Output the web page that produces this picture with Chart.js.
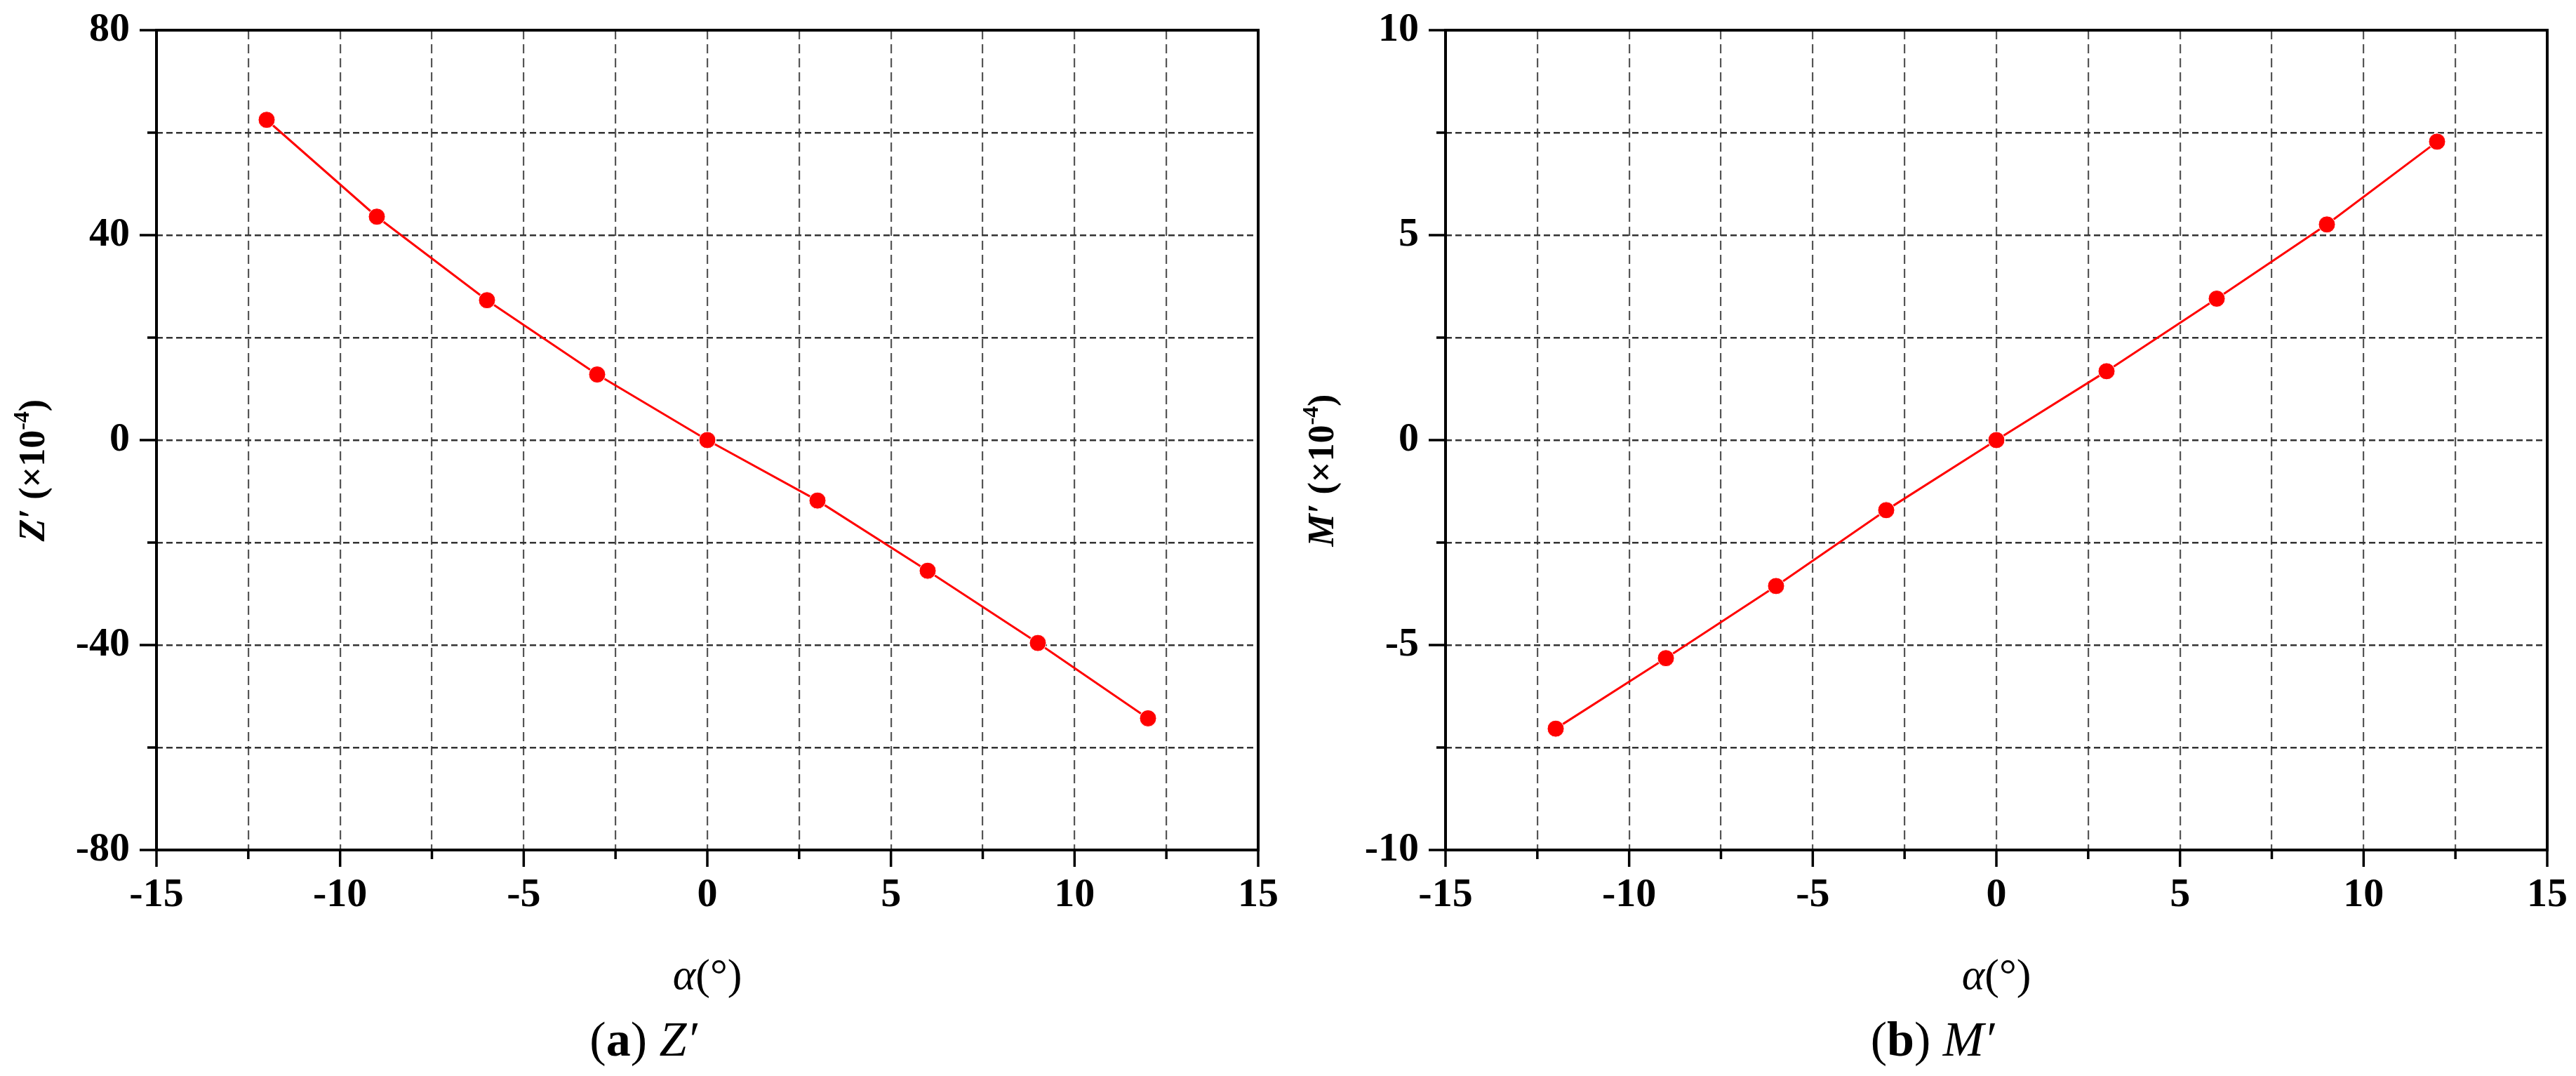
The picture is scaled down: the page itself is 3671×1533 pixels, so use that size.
<!DOCTYPE html>
<html>
<head>
<meta charset="utf-8">
<script src="https://cdn.jsdelivr.net/npm/chart.js@4.4.0/dist/chart.umd.min.js"></script>
<style>
  html, body { margin: 0; padding: 0; background: #fff; }
  .panel { position: absolute; top: 0; width: 1835px; height: 1533px; }
</style>
</head>
<body>
<div class="panel" style="left:0"><canvas id="chartZ" width="1835" height="1533"></canvas></div>
<div class="panel" style="left:1837px"><canvas id="chartM" width="1835" height="1533"></canvas></div>
<script>
// angle of attack (deg)
const alpha = [-12, -9, -6, -3, 0, 3, 6, 9, 12];
// Z' (x10^-4)
const zValues = [62.5, 43.6, 27.3, 12.8, 0, -11.8, -25.5, -39.6, -54.3];
// M' (x10^-4)
const mValues = [-7.04, -5.32, -3.56, -1.71, 0, 1.68, 3.45, 5.26, 7.28];

const SERIF = '"Liberation Serif", "Times New Roman", serif';

function drawRuns(ctx, runs, cx, cy) {
  let total = 0;
  runs.forEach(r => { ctx.font = r.font; total += ctx.measureText(r.text).width; });
  let x = cx - total / 2;
  ctx.textAlign = 'left';
  ctx.textBaseline = 'alphabetic';
  runs.forEach(r => {
    ctx.font = r.font;
    ctx.fillText(r.text, x, cy + (r.dy || 0));
    x += ctx.measureText(r.text).width;
  });
}

const isMajor = (v, step) => Math.abs(v / step - Math.round(v / step)) < 1e-6;

// ticks (major/minor), frame, titles and caption
const decor = {
  id: 'decor',
  afterDraw(chart, args, opts) {
    const { ctx, chartArea: a, scales: { x, y } } = chart;
    ctx.save();
    ctx.strokeStyle = '#000';
    ctx.lineWidth = 3.5;
    ctx.beginPath();
    x.ticks.forEach(t => {
      const px = x.getPixelForValue(t.value);
      const len = isMajor(t.value, opts.xMajor) ? 24 : 13;
      ctx.moveTo(px, a.bottom);
      ctx.lineTo(px, a.bottom + len);
    });
    y.ticks.forEach(t => {
      const py = y.getPixelForValue(t.value);
      const len = isMajor(t.value, opts.yMajor) ? 24 : 13;
      ctx.moveTo(a.left, py);
      ctx.lineTo(a.left - len, py);
    });
    ctx.stroke();

    ctx.lineWidth = 4;
    ctx.strokeRect(a.left, a.top, a.right - a.left, a.bottom - a.top);

    ctx.fillStyle = '#000';
    // y title
    ctx.save();
    ctx.translate(63, 670);
    ctx.rotate(-Math.PI / 2);
    drawRuns(ctx, opts.yTitle, 0, 0);
    ctx.restore();

    // x title
    drawRuns(ctx, [
      { text: 'α', font: 'italic 62px ' + SERIF },
      { text: '(°)', font: '62px ' + SERIF }
    ], (a.left + a.right) / 2, 1409);

    // caption
    drawRuns(ctx, opts.caption, 917, 1504);
    ctx.restore();
  }
};

function makeChart(id, values, yMin, yMax, yStep, yMajor, yTitle, caption) {
  const points = alpha.map((a, i) => ({ x: a, y: values[i] }));
  return new Chart(document.getElementById(id), {
    type: 'line',
    data: {
      datasets: [{
        data: points,
        borderColor: '#ff0000',
        borderWidth: 3,
        pointRadius: 12,
        pointBackgroundColor: '#ff0000',
        pointBorderColor: '#ffffff',
        pointBorderWidth: 1,
        tension: 0
      }]
    },
    options: {
      responsive: false,
      devicePixelRatio: 1,
      animation: false,
      events: [],
      layout: { padding: { left: 0, top: 43, right: 42, bottom: 0 } },
      plugins: {
        legend: { display: false },
        tooltip: { enabled: false },
        decor: { xMajor: 5, yMajor: yMajor, yTitle: yTitle, caption: caption }
      },
      scales: {
        x: {
          type: 'linear',
          min: -15, max: 15,
          afterFit: s => { s.height = 322; s.paddingLeft = 0; s.paddingRight = 0; },
          ticks: {
            stepSize: 2.5,
            maxTicksLimit: 100,
            autoSkip: false,
            maxRotation: 0,
            padding: 30,
            color: '#000',
            font: { family: SERIF, size: 58, weight: 'bold' },
            callback: v => isMajor(v, 5) ? String(v) : ''
          },
          grid: { color: '#555', lineWidth: 2.2, drawTicks: false },
          border: { display: false, dash: [13, 7] }
        },
        y: {
          min: yMin, max: yMax,
          afterFit: s => { s.width = 223; s.paddingTop = 0; s.paddingBottom = 0; },
          ticks: {
            stepSize: yStep,
            maxTicksLimit: 100,
            autoSkip: false,
            padding: 38,
            color: '#000',
            font: { family: SERIF, size: 58, weight: 'bold' },
            callback: v => isMajor(v, yMajor) ? String(v) : ''
          },
          grid: { color: '#333', lineWidth: 2.5, drawTicks: false },
          border: { display: false, dash: [9, 5] }
        }
      }
    },
    plugins: [decor]
  });
}

const titleRuns = letter => [
  { text: letter + '′', font: 'italic bold 52px ' + SERIF },
  { text: ' (×10', font: 'bold 52px ' + SERIF },
  { text: '-4', font: 'bold 32px ' + SERIF, dy: -22 },
  { text: ')', font: 'bold 52px ' + SERIF }
];
const captionRuns = (tag, letter) => [
  { text: '(', font: '70px ' + SERIF },
  { text: tag, font: 'bold 70px ' + SERIF },
  { text: ') ', font: '70px ' + SERIF },
  { text: letter + '′', font: 'italic 70px ' + SERIF }
];

makeChart('chartZ', zValues, -80, 80, 20, 40, titleRuns('Z'), captionRuns('a', 'Z'));
makeChart('chartM', mValues, -10, 10, 2.5, 5, titleRuns('M'), captionRuns('b', 'M'));
</script>
</body>
</html>
